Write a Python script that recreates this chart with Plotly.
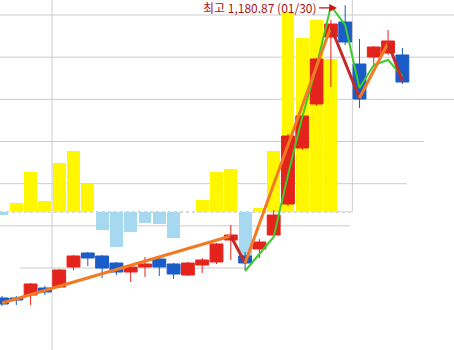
import plotly.graph_objects as go

# ---- data ----
idx = list(range(29))
opens  = [1007.24, 1007.24, 1009.02, 1013.16, 1013.76, 1025.61, 1033.91, 1032.14, 1027.98, 1022.65,
          1025.61, 1030.36, 1027.39, 1020.87, 1026.80, 1028.58, 1041.62, 1032.14, 1036.28, 1044.58,
          1062.96, 1096.16, 1122.24, 1161.96, 1170.85, 1145.95, 1150.10, 1152.47, 1151.29]
highs  = [1008.42, 1008.42, 1016.13, 1014.35, 1024.42, 1032.73, 1034.51, 1032.73, 1028.58, 1026.20,
          1031.54, 1030.95, 1027.98, 1028.58, 1030.95, 1039.84, 1050.51, 1034.51, 1042.21, 1059.40,
          1104.46, 1115.72, 1149.51, 1172.04, 1180.87, 1160.77, 1156.62, 1166.11, 1155.44]
lows   = [1002.49, 1003.09, 1003.09, 1009.02, 1013.16, 1023.83, 1026.20, 1019.09, 1020.87, 1016.72,
          1019.69, 1020.28, 1018.50, 1020.28, 1022.06, 1027.39, 1029.76, 1023.83, 1030.95, 1043.99,
          1061.78, 1094.97, 1121.06, 1132.32, 1157.22, 1119.87, 1145.36, 1151.29, 1134.10]
closes = [1003.68, 1006.05, 1015.54, 1010.79, 1023.83, 1032.14, 1030.95, 1025.02, 1022.65, 1025.61,
          1027.39, 1025.61, 1021.46, 1027.98, 1029.76, 1039.25, 1044.58, 1027.98, 1040.43, 1056.44,
          1103.27, 1115.13, 1148.92, 1169.66, 1158.99, 1125.20, 1156.03, 1159.59, 1135.28]
vol_chg = [-3, 9, 40, 11, 49, 61, 28, -18, -35, -20,
           -11, -12, -26, 0, 12, 40, 43, -44, 4, 61,
           200, 174, 192, 153, 1, None, None, None, None]
zz_idx = [0, 16, 17, 23, 25, 27, 28]
zz_val = [1004.27, 1043.99, 1027.98, 1167.89, 1125.80, 1158.40, 1135.88]
green_idx = list(range(17, 29))
green_val = [1023.24, 1033.32, 1043.40, 1080.15, 1114.53, 1144.77, 1180.34, 1169.07,
             1131.73, 1145.36, 1148.32, 1138.84]
grid_levels = [1175, 1150, 1125, 1100, 1075, 1050, 1025]
grid_extent = [(0, 1), (0, 1), (0, 1), (0, 0.934), (0, 0.896), (0, 0.771), (0.044, 0.544)]
label_text = "최고 1,180.87 (01/30)"

RED = "#e4241c"
BLUE = "#1a5cc8"
YELLOW = "#fff700"
LIGHTBLUE = "#a6d8f0"
ORANGE = "#f27a24"
DARKRED = "#c62a26"
GREEN = "#3ccc2c"

fig = go.Figure()

# volume change bars (main y)
vx = [i for i, v in zip(idx, vol_chg) if v is not None]
vy = [v for v in vol_chg if v is not None]
fig.add_trace(go.Bar(
    x=vx, y=vy, width=0.9,
    marker=dict(color=[YELLOW if v >= 0 else LIGHTBLUE for v in vy], line=dict(width=0)),
    yaxis="y", hoverinfo="skip"))

# candles on overlaid price axis
fig.add_trace(go.Candlestick(
    x=idx, open=opens, high=highs, low=lows, close=closes, yaxis="y2",
    increasing=dict(fillcolor=RED, line=dict(color=RED, width=1)),
    decreasing=dict(fillcolor=BLUE, line=dict(color=BLUE, width=1)),
    whiskerwidth=0))

# green line
fig.add_trace(go.Scatter(x=green_idx, y=green_val, mode="lines", yaxis="y2",
                         line=dict(color=GREEN, width=2), hoverinfo="skip"))

# zigzag segments
for k in range(len(zz_idx) - 1):
    rising = zz_val[k + 1] > zz_val[k]
    fig.add_trace(go.Scatter(
        x=[zz_idx[k], zz_idx[k + 1]], y=[zz_val[k], zz_val[k + 1]], mode="lines",
        yaxis="y2", line=dict(color=ORANGE if rising else DARKRED, width=3),
        hoverinfo="skip"))

shapes = []
for lvl, (x0, x1) in zip(grid_levels, grid_extent):
    shapes.append(dict(type="line", xref="paper", x0=x0, x1=x1, yref="y2", y0=lvl, y1=lvl,
                       line=dict(color="#cccccc", width=1), layer="below"))
shapes.append(dict(type="line", xref="x", x0=3.5, x1=3.5, yref="paper", y0=0, y1=1,
                   line=dict(color="#cccccc", width=1), layer="below"))
shapes.append(dict(type="line", xref="x", x0=24.5, x1=24.5, yref="paper", y0=0.394, y1=1,
                   line=dict(color="#cccccc", width=1), layer="below"))
shapes.append(dict(type="line", xref="paper", x0=0, x1=0.775, yref="y", y0=0, y1=0,
                   line=dict(color="#b0b0b0", width=1, dash="dot"), layer="below"))

hi_i = max(idx, key=lambda i: highs[i])
annotations = [dict(
    x=hi_i - 0.57, y=highs[hi_i] - 1.7, xref="x", yref="y2",
    text=label_text, showarrow=True, ax=-18, ay=0, xanchor="right",
    arrowhead=2, arrowsize=1.3, arrowwidth=1.2, arrowcolor="#cc1414",
    font=dict(family="Noto Sans CJK KR, sans-serif", size=12, color="#a8141c"))]

fig.update_layout(
    width=454, height=350, margin=dict(l=0, r=0, t=0, b=0),
    paper_bgcolor="white", plot_bgcolor="white", showlegend=False,
    boxgap=0.1, boxgroupgap=0, bargap=0,
    xaxis=dict(visible=False, range=[-0.14, 31.61], rangeslider=dict(visible=False)),
    yaxis=dict(visible=False, range=[-138, 212]),
    yaxis2=dict(visible=False, overlaying="y", range=[976.41, 1183.89]),
    shapes=shapes, annotations=annotations)

fig.write_html("out.html")
